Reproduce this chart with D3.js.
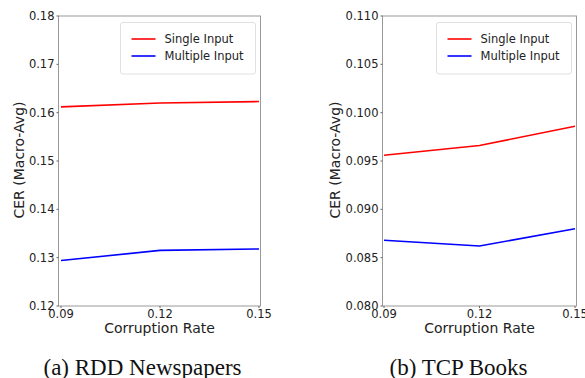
<!DOCTYPE html>
<html>
<head>
<meta charset="utf-8">
<script src="https://cdn.jsdelivr.net/npm/d3@7"></script>
<style>
  body { margin: 0; background: #fff; }
  svg { display: block; }
</style>
</head>
<body>
<div id="chart"></div>
<script>
// corruption rates on the x axis
var rates = [0.09, 0.12, 0.15];
var seriesNames = ["Single Input", "Multiple Input"];
var seriesColors = ["#ff0000", "#0000ff"];

// (a) RDD Newspapers
var rddSingle = [0.1612, 0.1620, 0.1623];
var rddMultiple = [0.1294, 0.1315, 0.1318];
var rddTicks = [0.12, 0.13, 0.14, 0.15, 0.16, 0.17, 0.18];

// (b) TCP Books
var tcpSingle = [0.0956, 0.0966, 0.0986];
var tcpMultiple = [0.0868, 0.0862, 0.0880];
var tcpTicks = [0.080, 0.085, 0.090, 0.095, 0.100, 0.105, 0.110];

var W = 585, H = 378;
var svg = d3.select("#chart").append("svg")
  .attr("width", W).attr("height", H);

var font = "DejaVu Sans, sans-serif";

function drawPanel(opts) {
  var g = svg.append("g");
  var top = 16, bottom = 306;

  var x = d3.scaleLinear().domain([0.09, 0.15]).range([opts.x0, opts.x1]);
  var y = d3.scaleLinear().domain([opts.ticks[0], opts.ticks[opts.ticks.length - 1]]).range([bottom, top]);

  // frame
  g.append("rect")
    .attr("x", opts.left).attr("y", top)
    .attr("width", opts.right - opts.left).attr("height", bottom - top)
    .attr("fill", "none").attr("stroke", "#999").attr("stroke-width", 1);

  // y ticks
  opts.ticks.forEach(function(t) {
    g.append("line")
      .attr("x1", opts.left - 2).attr("x2", opts.left)
      .attr("y1", y(t)).attr("y2", y(t))
      .attr("stroke", "#666");
    g.append("text")
      .attr("x", opts.left - 4).attr("y", y(t))
      .attr("dy", "0.35em")
      .attr("text-anchor", "end")
      .attr("font-family", font).attr("font-size", 11.5)
      .attr("fill", "#222")
      .text(d3.format(opts.fmt)(t));
  });

  // x ticks
  rates.forEach(function(r) {
    g.append("line")
      .attr("x1", x(r)).attr("x2", x(r))
      .attr("y1", bottom).attr("y2", bottom + 2)
      .attr("stroke", "#666");
    g.append("text")
      .attr("x", x(r)).attr("y", bottom + 8)
      .attr("dy", "0.35em")
      .attr("text-anchor", "middle")
      .attr("font-family", font).attr("font-size", 11.5)
      .attr("fill", "#222")
      .text(d3.format(".2f")(r));
  });

  // axis labels
  g.append("text")
    .attr("x", (opts.left + opts.right) / 2).attr("y", 328)
    .attr("dy", "0.35em")
    .attr("text-anchor", "middle")
    .attr("font-family", font).attr("font-size", 14)
    .attr("fill", "#222")
    .text("Corruption Rate");

  g.append("text")
    .attr("transform", "translate(" + opts.ylabX + ",160) rotate(-90)")
    .attr("dy", "0.35em")
    .attr("text-anchor", "middle")
    .attr("font-family", font).attr("font-size", 14)
    .attr("fill", "#222")
    .text("CER (Macro-Avg)");

  // lines
  var line = d3.line()
    .x(function(d, i) { return x(rates[i]); })
    .y(function(d) { return y(d); });

  [opts.single, opts.multiple].forEach(function(vals, k) {
    g.append("path")
      .datum(vals)
      .attr("d", line)
      .attr("fill", "none")
      .attr("stroke", seriesColors[k])
      .attr("stroke-width", 1.6);
  });

  // legend
  var lx = opts.legX, ly = 22.5;
  g.append("rect")
    .attr("x", lx).attr("y", ly)
    .attr("width", 135).attr("height", 51.5)
    .attr("rx", 2.5)
    .attr("fill", "#fff").attr("stroke", "#e0e0e0");
  seriesNames.forEach(function(name, k) {
    var yy = ly + 16.5 + k * 17;
    g.append("line")
      .attr("x1", lx + 11).attr("x2", lx + 35)
      .attr("y1", yy).attr("y2", yy)
      .attr("stroke", seriesColors[k]).attr("stroke-width", 1.6);
    g.append("text")
      .attr("x", lx + 44).attr("y", yy)
      .attr("dy", "0.35em")
      .attr("font-family", font).attr("font-size", 11.5)
      .attr("fill", "#222")
      .text(name);
  });

  // caption
  g.append("text")
    .attr("x", opts.capX).attr("y", 375)
    .attr("text-anchor", "middle")
    .attr("font-family", "Liberation Serif, Times New Roman, serif")
    .attr("font-size", 23)
    .attr("fill", "#111")
    .text(opts.caption);
}

drawPanel({
  left: 58.5, right: 260.5, x0: 61, x1: 259,
  ticks: rddTicks, fmt: ".2f",
  single: rddSingle, multiple: rddMultiple,
  ylabX: 19, legX: 120.5, capX: 142.5,
  caption: "(a) RDD Newspapers"
});

drawPanel({
  left: 382.5, right: 576.5, x0: 384, x1: 575,
  ticks: tcpTicks, fmt: ".3f",
  single: tcpSingle, multiple: tcpMultiple,
  ylabX: 335, legX: 436.5, capX: 458.5,
  caption: "(b) TCP Books"
});
</script>
</body>
</html>
